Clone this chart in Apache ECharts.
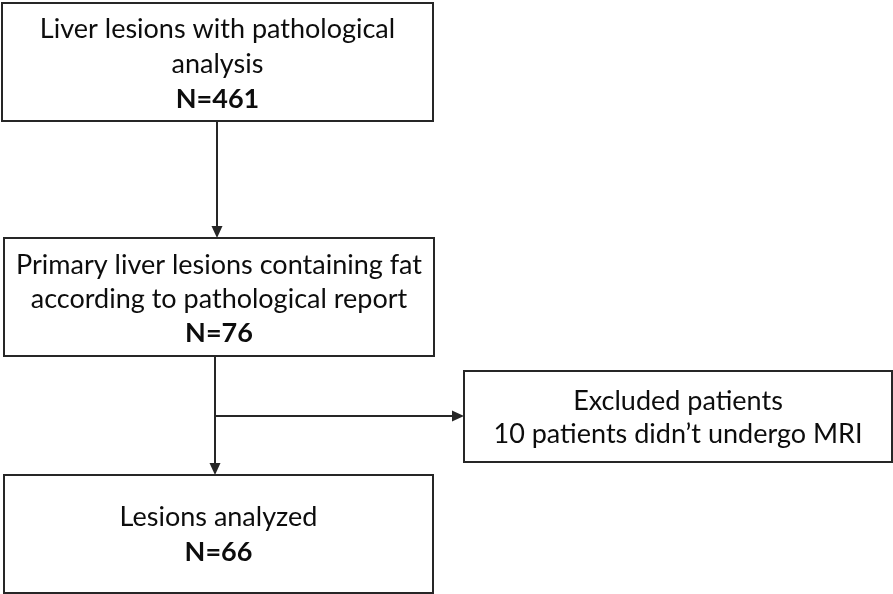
<!DOCTYPE html>
<html><head><meta charset="utf-8">
<script src="https://cdn.jsdelivr.net/npm/echarts@6/dist/echarts.min.js"></script>
<style>html,body{margin:0;padding:0;background:#fff}#c{width:893px;height:594px}</style>
</head><body><div id="c"></div>
<script>
// ---- data ----
const stepTitles = [
  'Liver lesions with pathological\nanalysis',
  'Primary liver lesions containing fat\naccording to pathological report',
  'Excluded patients\n10 patients didn\u2019t undergo MRI',
  'Lesions analyzed'
];
const stepCounts = [461, 76, null, 66];

// ---- layout (pixel space of the flow diagram) ----
const boxes = [
  [2, 3, 433, 121],
  [4, 238, 434, 356],
  [464, 371, 892, 462],
  [4, 475, 433, 593]
];
const lineHeights = [35, 34, 33, 35];
const textOffsetY = [2, 2, 1, 1];
// arrows: [x0,y0,x1,y1]
const arrows = [
  [217, 121, 217, 238],
  [215, 356, 215, 475],
  [215, 416, 464, 416]
];
const FONT = 'Lato';
const FS = 27;
const STROKE = '#262626';

const chart = echarts.init(document.getElementById('c'), null, {renderer: 'canvas'});

function boxItem(params, api) {
  const i = params.dataIndex;
  const b = boxes[i];
  const p0 = api.coord([b[0], b[1]]);
  const p1 = api.coord([b[2], b[3]]);
  const cx = (p0[0] + p1[0]) / 2, cy = (p0[1] + p1[1]) / 2 + textOffsetY[i];
  let txt = stepTitles[i];
  if (stepCounts[i] != null) txt += '\n{b|N=' + stepCounts[i] + '}';
  return {
    type: 'group',
    children: [
      {type: 'rect', shape: {x: p0[0], y: p0[1], width: p1[0] - p0[0], height: p1[1] - p0[1]},
       style: {fill: '#fff', stroke: STROKE, lineWidth: 2}},
      {type: 'text', style: {
        text: txt, x: cx, y: cy, align: 'center', verticalAlign: 'middle',
        fontFamily: FONT, fontSize: FS, fill: '#0d0d0d', lineHeight: lineHeights[i],
        rich: {b: {fontFamily: FONT, fontSize: FS, fontWeight: 'bold', fill: '#0d0d0d', lineHeight: lineHeights[i]}}
      }}
    ]
  };
}

function arrowItem(params, api) {
  const a = arrows[params.dataIndex];
  const s = api.coord([a[0], a[1]]);
  const e = api.coord([a[2], a[3]]);
  const dx = e[0] - s[0], dy = e[1] - s[1];
  const len = Math.sqrt(dx * dx + dy * dy);
  const ux = dx / len, uy = dy / len;
  const hl = 12, hw = 5.5;
  const bx = e[0] - ux * hl, by = e[1] - uy * hl;
  return {
    type: 'group',
    children: [
      {type: 'line', shape: {x1: s[0], y1: s[1], x2: bx, y2: by}, style: {stroke: STROKE, lineWidth: 2}},
      {type: 'polygon', shape: {points: [[e[0], e[1]], [bx - uy * hw, by + ux * hw], [bx + uy * hw, by - ux * hw]]},
       style: {fill: STROKE}}
    ]
  };
}

chart.setOption({
  animation: false,
  grid: {left: 0, right: 0, top: 0, bottom: 0},
  xAxis: {type: 'value', min: 0, max: 893, show: false},
  yAxis: {type: 'value', min: 0, max: 594, inverse: true, show: false},
  series: [
    {type: 'custom', renderItem: arrowItem, data: arrows.map((_, i) => i), clip: false, z: 1},
    {type: 'custom', renderItem: boxItem, data: stepTitles.map((_, i) => i), clip: false, z: 2}
  ]
});
</script>
</body></html>
